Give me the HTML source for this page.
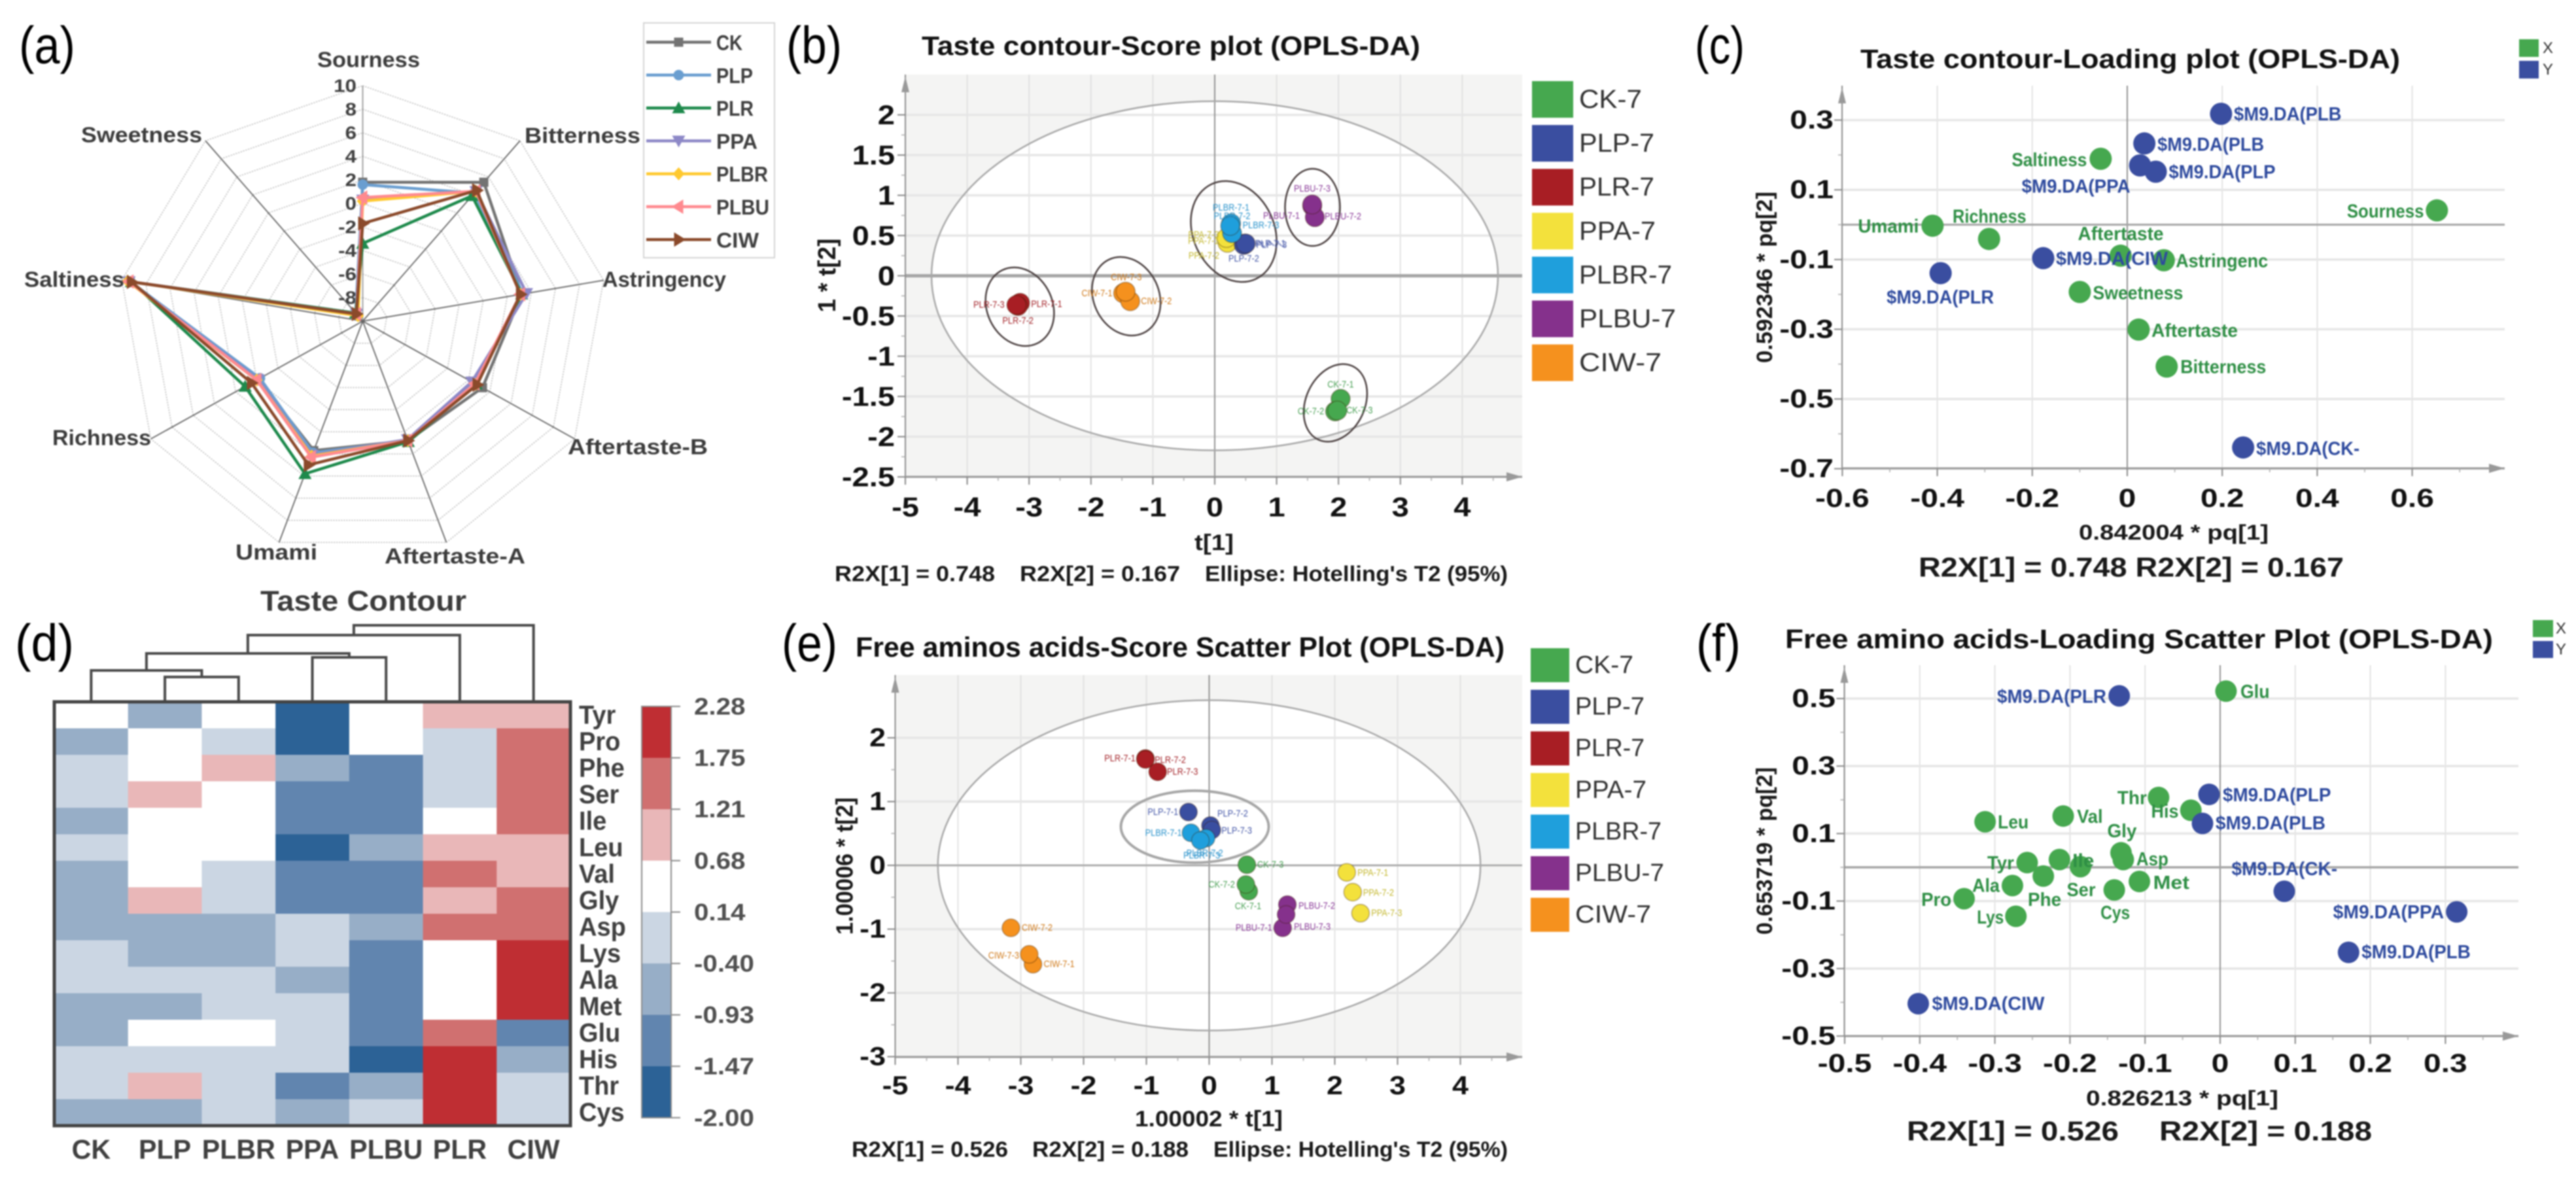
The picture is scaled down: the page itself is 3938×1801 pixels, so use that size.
<!DOCTYPE html>
<html lang="en">
<head>
<meta charset="utf-8">
<title>Taste contour and free amino acids figure</title>
<style>
html,body{margin:0;padding:0;background:#fff;width:3938px;height:1801px;overflow:hidden}
svg{display:block;filter:blur(1px)}
text{font-family:"Liberation Sans",sans-serif;dominant-baseline:central}
.t{font-weight:bold;fill:#111}
.n{font-weight:bold;fill:#1a1a1a}
.a{font-weight:bold;fill:#3c3c3c}
.p{fill:#000}
</style>
</head>
<body>
<svg id="figure" xmlns="http://www.w3.org/2000/svg" width="3938" height="1801" viewBox="0 0 3938 1801">
<rect width="3938" height="1801" fill="#fff"/>

<!-- Panel labels -->
<g>
<text class="p" x="29" y="69" font-size="80" textLength="86" lengthAdjust="spacingAndGlyphs">(a)</text>
<text class="p" x="1202" y="69" font-size="80" textLength="85" lengthAdjust="spacingAndGlyphs">(b)</text>
<text class="p" x="2591" y="69" font-size="80" textLength="76" lengthAdjust="spacingAndGlyphs">(c)</text>
<text class="p" x="23" y="983" font-size="80" textLength="90" lengthAdjust="spacingAndGlyphs">(d)</text>
<text class="p" x="1195" y="983" font-size="80" textLength="85" lengthAdjust="spacingAndGlyphs">(e)</text>
<text class="p" x="2593" y="983" font-size="80" textLength="68" lengthAdjust="spacingAndGlyphs">(f)</text>
</g>

<!-- Panel a -->
<g id="panel-a"></g>
<g font-size="33">
<text class="a" x="485" y="91" textLength="157" lengthAdjust="spacingAndGlyphs">Sourness</text>
<text class="a" x="802" y="207" textLength="177" lengthAdjust="spacingAndGlyphs">Bitterness</text>
<text class="a" x="921" y="427" textLength="189" lengthAdjust="spacingAndGlyphs">Astringency</text>
<text class="a" x="868" y="683" textLength="214" lengthAdjust="spacingAndGlyphs">Aftertaste-B</text>
<text class="a" x="588" y="850" textLength="215" lengthAdjust="spacingAndGlyphs">Aftertaste-A</text>
<text class="a" x="360" y="844" textLength="125" lengthAdjust="spacingAndGlyphs">Umami</text>
<text class="a" x="80" y="669" textLength="151" lengthAdjust="spacingAndGlyphs">Richness</text>
<text class="a" x="37" y="427" textLength="153" lengthAdjust="spacingAndGlyphs">Saltiness</text>
<text class="a" x="124" y="206" textLength="185" lengthAdjust="spacingAndGlyphs">Sweetness</text>
</g>

<!-- Panel b -->
<g id="panel-b"></g>
<g>
<text class="t" x="1409" y="70" font-size="41" textLength="762" lengthAdjust="spacingAndGlyphs">Taste contour-Score plot (OPLS-DA)</text>
<text class="n" x="1856" y="830" text-anchor="middle" font-size="34" textLength="60" lengthAdjust="spacingAndGlyphs">t[1]</text>
<text class="n" x="1276" y="877" font-size="33" textLength="245" lengthAdjust="spacingAndGlyphs">R2X[1] = 0.748</text>
<text class="n" x="1559" y="877" font-size="33" textLength="245" lengthAdjust="spacingAndGlyphs">R2X[2] = 0.167</text>
<text class="n" x="1842" y="877" font-size="33" textLength="463" lengthAdjust="spacingAndGlyphs">Ellipse: Hotelling's T2 (95%)</text>
<text class="n" x="1265" y="421" text-anchor="middle" font-size="38" textLength="113" lengthAdjust="spacingAndGlyphs" transform="rotate(-90 1265 421)">1 * t[2]</text>
</g>

<!-- Panel c -->
<g id="panel-c"></g>
<g>
<text class="t" x="2844" y="90" font-size="41" textLength="825" lengthAdjust="spacingAndGlyphs">Taste contour-Loading plot (OPLS-DA)</text>
<text class="n" x="3178" y="814" font-size="32" textLength="290" lengthAdjust="spacingAndGlyphs">0.842004 * pq[1]</text>
<text class="n" x="2933" y="867" font-size="42" textLength="650" lengthAdjust="spacingAndGlyphs">R2X[1] = 0.748 R2X[2] = 0.167</text>
<text class="n" x="2698" y="424" text-anchor="middle" font-size="34" textLength="262" lengthAdjust="spacingAndGlyphs" transform="rotate(-90 2698 424)">0.592346 * pq[2]</text>
</g>

<!-- Panel d -->
<g id="panel-d"></g>
<text class="a" x="398" y="919" font-size="44" textLength="315" lengthAdjust="spacingAndGlyphs">Taste Contour</text>

<!-- Panel e -->
<g id="panel-e"></g>
<g>
<text class="t" x="1308" y="990" font-size="43" textLength="992" lengthAdjust="spacingAndGlyphs">Free aminos acids-Score Scatter Plot (OPLS-DA)</text>
<text class="n" x="1735" y="1711" font-size="34" textLength="226" lengthAdjust="spacingAndGlyphs">1.00002 * t[1]</text>
<text class="n" x="1302" y="1757" font-size="33" textLength="239" lengthAdjust="spacingAndGlyphs">R2X[1] = 0.526</text>
<text class="n" x="1578" y="1757" font-size="33" textLength="239" lengthAdjust="spacingAndGlyphs">R2X[2] = 0.188</text>
<text class="n" x="1855" y="1757" font-size="33" textLength="450" lengthAdjust="spacingAndGlyphs">Ellipse: Hotelling's T2 (95%)</text>
<text class="n" x="1291" y="1324" text-anchor="middle" font-size="36" textLength="210" lengthAdjust="spacingAndGlyphs" transform="rotate(-90 1291 1324)">1.00006 * t[2]</text>
</g>

<!-- Panel f -->
<g id="panel-f"></g>
<g>
<text class="t" x="2729" y="977" font-size="41" textLength="1082" lengthAdjust="spacingAndGlyphs">Free amino acids-Loading Scatter Plot (OPLS-DA)</text>
<text class="n" x="3189" y="1679" font-size="32" textLength="294" lengthAdjust="spacingAndGlyphs">0.826213 * pq[1]</text>
<text class="n" x="2915" y="1729" font-size="42" textLength="324" lengthAdjust="spacingAndGlyphs">R2X[1] = 0.526</text>
<text class="n" x="3301" y="1729" font-size="42" textLength="325" lengthAdjust="spacingAndGlyphs">R2X[2] = 0.188</text>
<text class="n" x="2698" y="1301" text-anchor="middle" font-size="34" textLength="256" lengthAdjust="spacingAndGlyphs" transform="rotate(-90 2698 1301)">0.653719 * pq[2]</text>
</g>
</svg>

<script>
/* ---------- panel a data ---------- */
const radarTicks = [10, 8, 6, 4, 2, 0, -2, -4, -6, -8];
const radarSeriesNames = ['CK', 'PLP', 'PLR', 'PPA', 'PLBR', 'PLBU', 'CIW'];
// Order: Sourness, Bitterness, Astringency, Aftertaste-B, Aftertaste-A, Umami, Richness, Saltiness, Sweetness
const radarCK   = [1.8, 5.4, 3.2, 1.3, 0.8, 1.7, -0.1, 9.3, -9.2];
const radarPLP  = [1.6, 4.2, 3.3, 0.5, 0.8, 1.9, -0.3, 9.3, -9.1];
const radarPLR  = [-3.4, 3.9, 3.2, 0.7, 0.9, 3.8, 1.1, 9.2, -9.1];
const radarPPA  = [0.3, 4.4, 3.6, 0.3, 0.7, 2.1, -0.1, 9.4, -9.2];
const radarPLBR = [0.2, 4.4, 3.1, 0.7, 0.8, 2.2, 0.0, 9.5, -9.4];
const radarPLBU = [0.5, 4.4, 3.1, 0.6, 0.8, 2.3, 0.0, 9.4, -9.2];
const radarCIW  = [-1.7, 4.5, 3.1, 0.8, 0.8, 3.0, 0.5, 9.2, -9.2];

/* ---------- panel b data ---------- */
const tasteScoreNames = ['PLR-7-1','PLR-7-2','PLR-7-3','CIW-7-1','CIW-7-2','CIW-7-3','PPA-7-1','PPA-7-2','PPA-7-3','PLP-7-1','PLP-7-2','PLP-7-3','PLBR-7-1','PLBR-7-2','PLBR-7-3','PLBU-7-1','PLBU-7-2','PLBU-7-3','CK-7-1','CK-7-2','CK-7-3'];
const tasteScoreT1 = [-3.146,-3.18,-3.205,-1.48,-1.366,-1.44,0.23,0.206,0.19,0.486,0.47,0.5,0.264,0.28,0.25,1.575,1.617,1.575,2.034,1.945,1.98];
const tasteScoreT2 = [-0.337,-0.375,-0.363,-0.217,-0.316,-0.198,0.49,0.41,0.47,0.4,0.383,0.4,0.65,0.53,0.62,0.867,0.728,0.886,-1.53,-1.686,-1.675];
const tasteScoreXTicks = [-5,-4,-3,-2,-1,0,1,2,3,4];
const tasteScoreYTicks = [2,1.5,1,0.5,0,-0.5,-1,-1.5,-2,-2.5];
const scoreLegendNames = ['CK-7','PLP-7','PLR-7','PPA-7','PLBR-7','PLBU-7','CIW-7'];

/* ---------- panel c data ---------- */
const tasteLoadNames = ['Saltiness','Umami','Richness','Sourness','Aftertaste','Astringenc','Sweetness','Aftertaste','Bitterness','$M9.DA(PLB','$M9.DA(PLB','$M9.DA(PPA','$M9.DA(PLP','$M9.DA(CIW','$M9.DA(PLR','$M9.DA(CK-'];
const tasteLoadKinds = ['X','X','X','X','X','X','X','X','X','Y','Y','Y','Y','Y','Y','Y'];
const tasteLoadP1 = [-0.056,-0.41,-0.291,0.652,-0.014,0.077,-0.1,0.024,0.083,0.1975,0.036,0.027,0.06,-0.177,-0.393,0.244];
const tasteLoadP2 = [0.189,-0.003,-0.041,0.041,-0.089,-0.102,-0.193,-0.301,-0.407,0.318,0.233,0.17,0.152,-0.096,-0.139,-0.639];
const tasteLoadXTicks = [-0.6,-0.4,-0.2,0,0.2,0.4,0.6];
const tasteLoadYTicks = [0.3,0.1,-0.1,-0.3,-0.5,-0.7];

/* ---------- panel d data ---------- */
const heatRows = ['Tyr','Pro','Phe','Ser','Ile','Leu','Val','Gly','Asp','Lys','Ala','Met','Glu','His','Thr','Cys'];
const heatCols = ['CK','PLP','PLBR','PPA','PLBU','PLR','CIW'];
const heatValues = [
  [0.41,-0.66,0.41,-1.73,0.41,0.95,0.95],
  [-0.66,0.41,-0.13,-1.73,0.41,-0.13,1.48],
  [-0.13,0.41,0.95,-0.66,-1.2,-0.13,1.48],
  [-0.13,0.95,0.41,-1.2,-1.2,-0.13,1.48],
  [-0.66,0.41,0.41,-1.2,-1.2,0.41,1.48],
  [-0.13,0.41,0.41,-1.73,-0.66,0.95,0.95],
  [-0.66,0.41,-0.13,-1.2,-1.2,1.48,0.95],
  [-0.66,0.95,-0.13,-1.2,-1.2,0.95,1.48],
  [-0.66,-0.66,-0.66,-0.13,-0.66,1.48,1.48],
  [-0.13,-0.66,-0.66,-0.13,-1.2,0.41,2.0],
  [-0.13,-0.13,-0.13,-0.66,-1.2,0.41,2.0],
  [-0.66,-0.66,-0.13,-0.13,-1.2,0.41,2.0],
  [-0.66,0.41,0.41,-0.13,-1.2,1.48,-1.2],
  [-0.13,-0.13,-0.13,-0.13,-1.73,2.0,-0.66],
  [-0.13,0.95,-0.13,-1.2,-0.66,2.0,-0.13],
  [-0.66,-0.66,-0.13,-0.66,-0.13,2.0,-0.13]
];
const heatTicks = [2.28,1.75,1.21,0.68,0.14,-0.40,-0.93,-1.47,-2.00];
const dendroChildren = [[1,2],[0,7],[3,4],[8,9],[10,5],[11,6]];
const dendroHeights = [3.6,4.6,6.6,7.2,10,11.5];

/* ---------- panel e data ---------- */
const aminoScoreNames = ['PLR-7-1','PLR-7-2','PLR-7-3','PLP-7-1','PLP-7-2','PLP-7-3','PLBR-7-1','PLBR-7-2','PLBR-7-3','CK-7-1','CK-7-2','CK-7-3','PLBU-7-1','PLBU-7-2','PLBU-7-3','PPA-7-1','PPA-7-2','PPA-7-3','CIW-7-1','CIW-7-2','CIW-7-3'];
const aminoScoreT1 = [-1.015,-1.015,-0.82,-0.33,0.02,0.043,-0.29,-0.05,-0.14,0.63,0.585,0.6,1.17,1.245,1.225,2.19,2.285,2.41,-2.806,-3.157,-2.866];
const aminoScoreT2 = [1.676,1.66,1.467,0.836,0.625,0.555,0.51,0.427,0.39,-0.406,-0.3,0.01,-0.98,-0.615,-0.77,-0.11,-0.42,-0.75,-1.55,-0.98,-1.395];
const aminoScoreXTicks = [-5,-4,-3,-2,-1,0,1,2,3,4];
const aminoScoreYTicks = [2,1,0,-1,-2,-3];

/* ---------- panel f data ---------- */
const aminoLoadNames = ['Glu','Thr','His','Val','Leu','Gly','Asp','Ile','Tyr','Phe','Ala','Met','Ser','Pro','Lys','Cys','$M9.DA(PLR','$M9.DA(PLP','$M9.DA(PLB','$M9.DA(CK-','$M9.DA(PPA','$M9.DA(PLB','$M9.DA(CIW'];
const aminoLoadKinds = ['X','X','X','X','X','X','X','X','X','X','X','X','X','X','X','X','Y','Y','Y','Y','Y','Y','Y'];
const aminoLoadP1 = [0.0078,-0.082,-0.039,-0.209,-0.313,-0.132,-0.129,-0.214,-0.257,-0.2355,-0.2766,-0.1075,-0.186,-0.341,-0.272,-0.141,-0.1344,-0.0148,-0.0235,0.0854,0.315,0.171,-0.402];
const aminoLoadP2 = [0.522,0.207,0.169,0.152,0.135,0.043,0.023,0.023,0.014,-0.026,-0.054,-0.042,0.002,-0.093,-0.145,-0.067,0.508,0.216,0.13,-0.071,-0.132,-0.252,-0.404];
const aminoLoadXTicks = [-0.5,-0.4,-0.3,-0.2,-0.1,0,0.1,0.2,0.3];
const aminoLoadYTicks = [0.5,0.3,0.1,-0.1,-0.3,-0.5];

/* ---------- layout (label placement, not data) ---------- */
const tasteScoreLabelDx = [40.6,0,-42,-40,40,1,-39,-36,-35,39,0,39.5,0,0,47,-47,43,0,0,-37,34];
const tasteScoreLabelDy = [2,23,0,0,0,-22,7,20,-5,0,21,2,-24,-26,-1,15,-1,-24,-22,0,0];
const aminoScoreLabelDx = [-39,38,38,-39,34,38,-42,-2,2,-1,-37,36,-44,45,40,40,39.5,40,40,40,-39];
const aminoScoreLabelDy = [0,1,0,0,-18,1,0,23,23,23,0,0,0,2,19,1,1,0,0,0,2];
const tasteLoadLabelDx = [-136,-114,-55.7,-137.5,-65.3,18.3,20,19.6,21,19.6,20,-181,20,19.5,-82.5,20];
const tasteLoadLabelDy = [2,1.4,-34,2,-33,1.6,2,2,1,1,2,32.5,1,1.5,37.6,2.6];
const tasteLoadLabelW = [115,93,112.6,117.6,131,141,138,132,131,164.5,163,166,163,171,164,158];
const aminoLoadLabelDx = [22,-63,-60.7,21,19.5,-21,20,20,-61,-23.6,-61.5,21,-21,-65.4,-59.5,-21,-186.7,21,20,-80.5,-189,20,21];
const aminoLoadLabelDy = [1.3,1.5,2.3,1.5,1.4,-32.7,0,2.5,1.4,36.4,0.7,2.3,36,2,2,35.5,1.5,1.3,0,-33.6,1,0,0.6];
const aminoLoadLabelW = [44.6,45,42,39.5,47,45,49,33,41,51,42,55.4,44,46,41,45,167,165.5,168,161.5,169.5,166.5,172];
const scoreLegendWidthsB = [96,115,115,117,142,148,126];
const scoreLegendWidthsE = [89,106,106,109,132,136,116];

const groupFill = {'CK':'#46a84f','PLP':'#3a4ea0','PLR':'#a81e24','PPA':'#f3e13c','PLBR':'#1f9fdc','PLBU':'#85318c','CIW':'#f5911e'};
const groupText = {'CK':'#4aa055','PLP':'#4658a8','PLR':'#a5262c','PPA':'#c4b82f','PLBR':'#2a93cc','PLBU':'#8a3a98','CIW':'#d07a1a'};
const radarColors = ['#737373','#6a9ed0','#1e8a4c','#8d88c7','#ffc92f','#ff8a8f','#8b4a2b'];
const radarMarkers = ['square','circle','up','down','diamond','left','right'];
const heatColors = ['#bf2e33','#d07070','#e9b7b8','#ffffff','#cbd6e3','#97aec7','#6185af','#2c6296'];

/* ---------- helpers ---------- */
const NS = 'http://www.w3.org/2000/svg';
function make(tag, parent, attrs) {
  const el = document.createElementNS(NS, tag);
  for (const k in attrs) { el.setAttribute(k, attrs[k]); }
  parent.appendChild(el);
  return el;
}
function line(parent, x1, y1, x2, y2, stroke, w, name, dash) {
  const el = make('line', parent, {x1: x1, y1: y1, x2: x2, y2: y2, stroke: stroke, 'stroke-width': w});
  if (dash) { el.setAttribute('stroke-dasharray', dash); }
  
  
  return el;
}
function label(parent, x, y, str, size, opt, name) {
  const el = make('text', parent, {x: x, y: y, 'font-size': size, fill: opt.fill || '#222'});
  el.textContent = str;
  if (opt.bold) { el.setAttribute('font-weight', 'bold'); }
  if (opt.anchor) { el.setAttribute('text-anchor', opt.anchor); }
  if (opt.width) {
    el.setAttribute('textLength', opt.width);
    el.setAttribute('lengthAdjust', 'spacingAndGlyphs');
  } else if (opt.stretch) {
    const natural = el.getComputedTextLength();
    el.setAttribute('textLength', (natural * opt.stretch).toFixed(1));
    el.setAttribute('lengthAdjust', 'spacingAndGlyphs');
  }
  
  
  return el;
}
function groupOf(name) { return name.split('-')[0]; }
function triangle(parent, x, y, color, name, pts) {
  const el = make('polygon', parent, {points: pts.map(p => (x + p[0]) + ',' + (y + p[1])).join(' '), fill: color});
  
  
  return el;
}
function marker(parent, kind, x, y, color, name) {
  if (kind === 'circle') {
    const el = make('circle', parent, {cx: x, cy: y, r: 8, fill: color});
    
    
    return el;
  }
  const shapes = {
    square: [[-7,-7],[7,-7],[7,7],[-7,7]],
    diamond: [[0,-10],[9,0],[0,10],[-9,0]],
    up: [[0,-10],[10,8],[-10,8]],
    down: [[0,10],[10,-8],[-10,-8]],
    left: [[-11,0],[7,-11],[7,11]],
    right: [[11,0],[-7,-11],[-7,11]]
  };
  return triangle(parent, x, y, color, name, shapes[kind]);
}

/* ---------- panel a ---------- */
(function () {
  const g = document.getElementById('panel-a');
  const cx = 554.5, cy = 491, Rx = 374, Ry = 360, n = 9;
  const radarX = (i, v) => cx + Rx * Math.sin(2 * Math.PI * i / n) * (v + 10) / 20;
  const radarY = (i, v) => cy - Ry * Math.cos(2 * Math.PI * i / n) * (v + 10) / 20;
  radarTicks.forEach(function (t) {
    const pts = [];
    for (let i = 0; i < n; i++) { pts.push(radarX(i, t).toFixed(1) + ',' + radarY(i, t).toFixed(1)); }
    const poly = make('polygon', g, {points: pts.join(' '), fill: 'none', stroke: '#b5b5b5', 'stroke-width': 1.5, 'stroke-dasharray': '2 2'});
    
    
  });
  for (let i = 0; i < n; i++) {
    line(g, cx, cy, radarX(i, 10), radarY(i, 10), i === 0 ? '#999' : '#666', 1.8, 'radar-axis-line');
  }
  radarTicks.forEach(function (t) {
    label(g, 545, radarY(0, t), String(t), 28, {bold: true, fill: '#404040', anchor: 'end', stretch: 1.12}, 'radar-tick-label');
  });
  const series = [radarCK, radarPLP, radarPLR, radarPPA, radarPLBR, radarPLBU, radarCIW];
  series.forEach(function (vals, s) {
    const pts = vals.map((v, i) => radarX(i, v).toFixed(1) + ',' + radarY(i, v).toFixed(1));
    const poly = make('polygon', g, {points: pts.join(' '), fill: 'none', stroke: radarColors[s], 'stroke-width': 4.5, 'stroke-linejoin': 'round'});
    
    
    vals.forEach(function (v, i) {
      marker(g, radarMarkers[s], radarX(i, v), radarY(i, v), radarColors[s], 'radar-series-marker');
    });
  });
  const box = make('rect', g, {x: 984, y: 35, width: 200, height: 359, fill: '#fff', stroke: '#d4d4d4', 'stroke-width': 2});
  
  
  const legendWidths = [40, 56, 57, 63, 79, 81, 65];
  radarSeriesNames.forEach(function (name, s) {
    const y = 64.5 + 50.3 * s;
    line(g, 988, y, 1087, y, radarColors[s], 4.5, 'radar-legend-line');
    marker(g, radarMarkers[s], 1037.5, y, radarColors[s], 'radar-legend-marker');
    label(g, 1095, y + 1, name, 32, {bold: true, fill: '#404040', width: legendWidths[s]}, 'radar-legend-label');
  });
})();

/* ---------- shared plot frame ---------- */
function drawFrame(g, o) {
  o.xTicks.forEach(v => line(g, o.sx(v), o.top, o.sx(v), o.bottom, '#dcdcdc', 1.6, 'vertical-gridline'));
  o.yTicks.forEach(v => line(g, o.left, o.sy(v), o.right, o.sy(v), '#e6e6e6', 3.5, 'horizontal-gridline'));
  line(g, o.sx(0), o.top, o.sx(0), o.bottom, '#888', 1.8, 'y-zero-line');
  line(g, o.left, o.sy(0), o.right, o.sy(0), '#a5a5a5', o.zeroW, 'x-zero-line');
  line(g, o.left, o.top, o.left, o.bottom, '#8c8c8c', 2, 'y-axis-line');
  line(g, o.left, o.bottom, o.right, o.bottom, '#9a9a9a', 3, 'x-axis-line');
  const up = make('polygon', g, {points: o.left + ',' + (o.top + 3) + ' ' + (o.left + 6) + ',' + (o.top + 27) + ' ' + (o.left - 6) + ',' + (o.top + 27), fill: '#999'});
  
  
  const rt = make('polygon', g, {points: o.right + ',' + o.bottom + ' ' + (o.right - 24) + ',' + (o.bottom - 7) + ' ' + (o.right - 24) + ',' + (o.bottom + 7), fill: '#999'});
  
  
  o.xTicks.forEach(function (v, i) {
    line(g, o.sx(v), o.bottom, o.sx(v), o.bottom + 12, '#888', 2, 'x-tick');
    if (i < o.xTicks.length) {
      const mid = v + (o.xTicks[1] - o.xTicks[0]) / 2;
      line(g, o.sx(mid), o.bottom, o.sx(mid), o.bottom + 6, '#aaa', 1.5, 'x-minor-tick');
    }
    label(g, o.sx(v), o.xLabelY, String(v), o.size, {bold: true, fill: '#111', anchor: 'middle', stretch: o.stretch}, 'x-tick-label');
  });
  o.yTicks.forEach(function (v, i) {
    line(g, o.left - 12, o.sy(v), o.left, o.sy(v), '#888', 2, 'y-tick');
    if (i < o.yTicks.length - 1) {
      const mid = (v + o.yTicks[i + 1]) / 2;
      line(g, o.left - 6, o.sy(mid), o.left, o.sy(mid), '#aaa', 1.5, 'y-minor-tick');
    }
    label(g, o.yLabelX, o.sy(v), String(v), o.size, {bold: true, fill: '#111', anchor: 'end', stretch: o.stretch}, 'y-tick-label');
  });
}
function drawScoreBackground(g, o, ex, ey) {
  const bg = make('rect', g, {x: o.left, y: o.top, width: o.right - o.left, height: o.bottom - o.top, fill: '#f4f4f3'});
  
  
  const ell = make('ellipse', g, {cx: o.sx(0), cy: o.sy(0), rx: o.sx(ex) - o.sx(0), ry: o.sy(0) - o.sy(ey), fill: '#fff'});
  
  
}
function drawHotelling(g, o, ex, ey) {
  const ell = make('ellipse', g, {cx: o.sx(0), cy: o.sy(0), rx: o.sx(ex) - o.sx(0), ry: o.sy(0) - o.sy(ey), fill: 'none', stroke: '#a8a8a8', 'stroke-width': 2.5});
  
  
}
function drawScorePoints(g, sx, sy, names, t1, t2, dx, dy, r) {
  names.forEach(function (name, i) {
    const grp = groupOf(name);
    const c = make('circle', g, {cx: sx(t1[i]), cy: sy(t2[i]), r: r, fill: groupFill[grp], stroke: 'rgba(60,30,0,0.35)', 'stroke-width': 1.5});
    
    
  });
  names.forEach(function (name, i) {
    const grp = groupOf(name);
    label(g, sx(t1[i]) + dx[i], sy(t2[i]) + dy[i], name, 15, {fill: groupText[grp], anchor: 'middle', stretch: 0.85}, 'score-point-label');
  });
}
function drawScoreLegend(g, left, top, w, h, step, textX, widths, size) {
  scoreLegendNames.forEach(function (name, i) {
    const grp = groupOf(name);
    const s = make('rect', g, {x: left, y: top + step * i, width: w, height: h, fill: groupFill[grp]});
    
    
    label(g, textX, top + step * i + h / 2, name, size, {fill: '#333', width: widths[i]}, 'legend-entry');
  });
}
function drawLoadingPoints(g, sx, sy, names, kinds, p1, p2, dx, dy, widths, r, size) {
  const fills = {X: '#46a84f', Y: '#3a4ea0'};
  const texts = {X: '#2f8f45', Y: '#2e4a9e'};
  ['X', 'Y'].forEach(function (kind) {
    names.forEach(function (name, i) {
      if (kinds[i] !== kind) { return; }
      const c = make('circle', g, {cx: sx(p1[i]), cy: sy(p2[i]), r: r, fill: fills[kind]});
      
      
    });
  });
  names.forEach(function (name, i) {
    label(g, sx(p1[i]) + dx[i], sy(p2[i]) + dy[i], name, size, {bold: true, fill: texts[kinds[i]], width: widths[i]}, 'loading-point-label');
  });
}
function drawXYLegend(g, left, w, top1, top2, h, textX, textSize) {
  const items = [['X', top1, '#46a84f'], ['Y', top2, '#3a4ea0']];
  items.forEach(function (it) {
    const s = make('rect', g, {x: left, y: it[1], width: w, height: h, fill: it[2]});
    
    
    label(g, textX, it[1] + h / 2, it[0], textSize, {fill: '#333'}, 'legend-entry');
  });
}

/* ---------- panel b ---------- */
(function () {
  const g = document.getElementById('panel-b');
  const o = {left: 1384, right: 2327, top: 114, bottom: 729, sx: v => 1857 + 94.6 * v, sy: v => 421.6 - 123 * v,
    xTicks: tasteScoreXTicks, yTicks: tasteScoreYTicks, xLabelY: 775, yLabelX: 1368, size: 42, stretch: 1.12, zeroW: 5};
  drawScoreBackground(g, o, 4.577, 2.17);
  drawFrame(g, o);
  drawHotelling(g, o, 4.577, 2.17);
  const clusters = [
    [-3.15, -0.385, 50, 62, -25], [-1.43, -0.255, 50, 62, -25], [0.307, 0.55, 62, 80, -25],
    [1.58, 0.85, 42, 59, 0], [1.95, -1.58, 45, 62, 25]
  ];
  clusters.forEach(function (c) {
    const px = o.sx(c[0]), py = o.sy(c[1]);
    const e = make('ellipse', g, {cx: px, cy: py, rx: c[2], ry: c[3], fill: 'none', stroke: '#4a3f3f', 'stroke-width': 2.5, transform: 'rotate(' + c[4] + ' ' + px + ' ' + py + ')'});
    
    
  });
  drawScorePoints(g, o.sx, o.sy, tasteScoreNames, tasteScoreT1, tasteScoreT2, tasteScoreLabelDx, tasteScoreLabelDy, 14.5);
  drawScoreLegend(g, 2342, 124, 63, 56, 67.1, 2414, scoreLegendWidthsB, 40);
})();

/* ---------- panel c ---------- */
(function () {
  const g = document.getElementById('panel-c');
  const o = {left: 2816, right: 3829, top: 131, bottom: 716, sx: v => 3252 + 726 * v, sy: v => 343.5 - 533 * v,
    xTicks: tasteLoadXTicks, yTicks: tasteLoadYTicks, xLabelY: 762, yLabelX: 2803, size: 40, stretch: 1.2, zeroW: 3};
  drawFrame(g, o);
  drawLoadingPoints(g, o.sx, o.sy, tasteLoadNames, tasteLoadKinds, tasteLoadP1, tasteLoadP2, tasteLoadLabelDx, tasteLoadLabelDy, tasteLoadLabelW, 17, 29);
  drawXYLegend(g, 3851, 30, 60, 93, 27, 3887, 24);
})();

/* ---------- panel d ---------- */
(function () {
  const g = document.getElementById('panel-d');
  const L = 83, T = 1073, cw = 789 / heatCols.length, rh = 648 / heatRows.length;
  const colX = i => L + cw * i;
  const rowY = j => T + rh * j;
  function heatColor(v) {
    for (let k = 1; k < heatTicks.length; k++) {
      if (v >= heatTicks[k]) { return heatColors[k - 1]; }
    }
    return heatColors[heatColors.length - 1];
  }
  heatValues.forEach(function (row, j) {
    row.forEach(function (v, i) {
      const c = make('rect', g, {x: colX(i), y: rowY(j), width: cw + 0.5, height: rh + 0.5, fill: heatColor(v)});
      
      
    });
  });
  const border = make('rect', g, {x: L, y: T, width: 789, height: 648, fill: 'none', stroke: '#444', 'stroke-width': 5});
  
  
  heatRows.forEach(function (name, j) {
    label(g, 885, rowY(j) + rh / 2, name, 40, {bold: true, fill: '#404040', stretch: 0.95}, 'heatmap-row-label');
  });
  heatCols.forEach(function (name, i) {
    label(g, colX(i) + cw / 2, 1757, name, 42, {bold: true, fill: '#404040', anchor: 'middle', stretch: 0.98}, 'heatmap-column-label');
  });
  /* dendrogram */
  const nodeX = heatCols.map((c, i) => colX(i) + cw / 2);
  const nodeH = heatCols.map(() => 0);
  const base = T - 2, hScale = 10;
  dendroChildren.forEach(function (kids, m) {
    const a = kids[0], b = kids[1], h = dendroHeights[m];
    const p = make('path', g, {d: 'M' + nodeX[a] + ' ' + (base - nodeH[a] * hScale) + 'V' + (base - h * hScale) + 'H' + nodeX[b] + 'V' + (base - nodeH[b] * hScale), fill: 'none', stroke: '#4a4a4a', 'stroke-width': 4});
    
    
    nodeX.push((nodeX[a] + nodeX[b]) / 2);
    nodeH.push(h);
  });
  /* colorbar */
  const barL = 981, barW = 45, barT = 1080, segH = 78.6;
  heatColors.forEach(function (col, k) {
    const s = make('rect', g, {x: barL, y: barT + segH * k, width: barW, height: segH + 0.5, fill: col});
    
    
  });
  const barBox = make('rect', g, {x: barL, y: barT, width: barW, height: segH * 8, fill: 'none', stroke: '#8a8a8a', 'stroke-width': 2});
  
  
  heatTicks.forEach(function (t, k) {
    const y = barT + segH * k;
    line(g, barL + barW, y, barL + barW + 14, y, '#8a8a8a', 2, 'colorbar-tick');
    label(g, 1061, y, t.toFixed(2), 36, {bold: true, fill: '#505050', stretch: 1.12}, 'colorbar-tick-label');
  });
})();

/* ---------- panel e ---------- */
(function () {
  const g = document.getElementById('panel-e');
  const o = {left: 1368.5, right: 2327, top: 1032, bottom: 1616, sx: v => 1848.5 + 96 * v, sy: v => 1323 - 97.5 * v,
    xTicks: aminoScoreXTicks, yTicks: aminoScoreYTicks, xLabelY: 1660, yLabelX: 1354, size: 40, stretch: 1.12, zeroW: 2.5};
  drawScoreBackground(g, o, 4.32, 2.59);
  drawFrame(g, o);
  drawHotelling(g, o, 4.32, 2.59);
  const ring = make('ellipse', g, {cx: o.sx(-0.229), cy: o.sy(0.606), rx: 113, ry: 55, fill: 'none', stroke: '#a6a6a6', 'stroke-width': 4});
  
  
  drawScorePoints(g, o.sx, o.sy, aminoScoreNames, aminoScoreT1, aminoScoreT2, aminoScoreLabelDx, aminoScoreLabelDy, 13.5);
  drawScoreLegend(g, 2340, 991, 59, 52, 63.6, 2408, scoreLegendWidthsE, 38);
})();

/* ---------- panel f ---------- */
(function () {
  const g = document.getElementById('panel-f');
  const o = {left: 2819.5, right: 3850, top: 1017, bottom: 1584, sx: v => 3394 + 1148 * v, sy: v => 1326 - 516 * v,
    xTicks: aminoLoadXTicks, yTicks: aminoLoadYTicks, xLabelY: 1626, yLabelX: 2806, size: 40, stretch: 1.2, zeroW: 3.5};
  drawFrame(g, o);
  drawLoadingPoints(g, o.sx, o.sy, aminoLoadNames, aminoLoadKinds, aminoLoadP1, aminoLoadP2, aminoLoadLabelDx, aminoLoadLabelDy, aminoLoadLabelW, 16.5, 29);
  drawXYLegend(g, 3872, 31, 948, 980, 26, 3907, 24);
})();
</script>
</body>
</html>
